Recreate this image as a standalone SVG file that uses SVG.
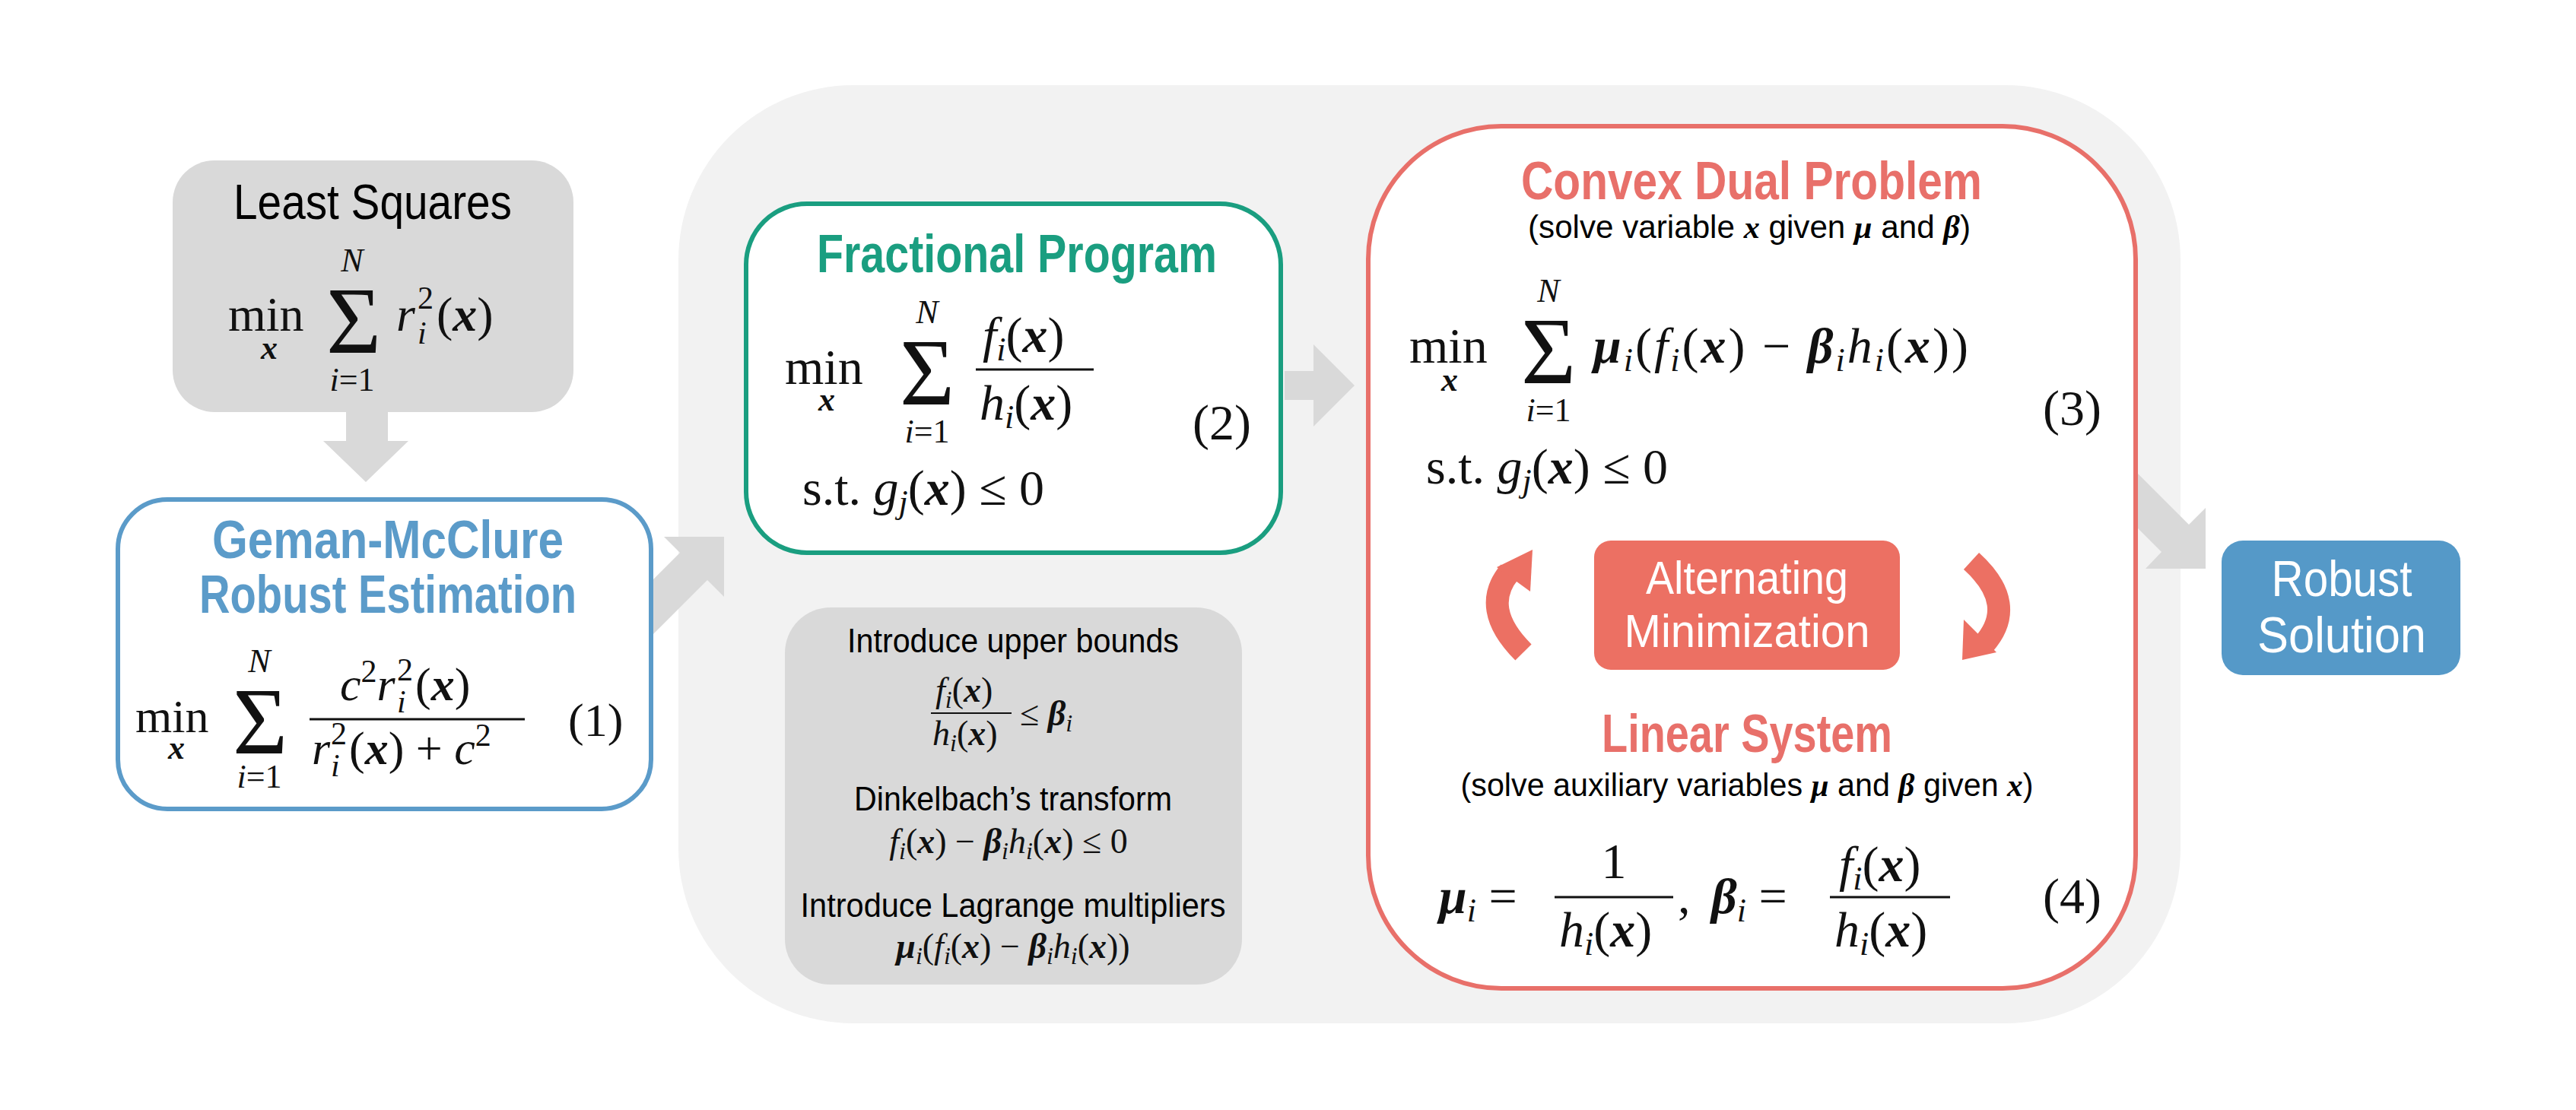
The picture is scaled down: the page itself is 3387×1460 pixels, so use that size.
<svg xmlns="http://www.w3.org/2000/svg" width="3387" height="1460" viewBox="0 0 3387 1460">
<style>
.t{font-family:"Liberation Sans Narrow","Liberation Sans",sans-serif;font-weight:bold}
.s{font-family:"Liberation Sans Narrow","Liberation Sans",sans-serif}
.m{font-family:"Liberation Serif",serif;fill:#111}
.i{font-style:italic}
.b{font-style:italic;font-weight:bold}
.arr{fill:#d9d9d9}
</style>
<rect width="3387" height="1460" fill="#fff"/>
<g id="background"><rect x="892" y="112" width="1975" height="1234" rx="230" fill="#f2f2f2"/></g>
<g id="connectors">
<polygon class="arr" points="455,542 510,542 510,580 537,580 481,634 425,580 455,580"/>
<polygon class="arr" points="952,706 952,785 930,763 856,837 856,765 894,727 873,706"/>
<polygon class="arr" points="1689,488 1727,488 1727,453 1781,507 1727,561 1727,526 1689,526"/>
<polygon class="arr" points="2900,748 2900,668 2878,690 2808,620 2808,692 2842,726 2821,748"/>
</g>
<g id="least-squares" font-size="64">
<rect x="227" y="211" width="527" height="331" rx="55" fill="#d9d9d9"/>
<text class="s" x="490" y="288" font-size="64" text-anchor="middle" textLength="366" lengthAdjust="spacingAndGlyphs">Least Squares</text>
<text class="m" x="300" y="435">min</text>
<text class="m b" x="354" y="472" font-size="44" text-anchor="middle">x</text>
<text class="m" x="465" y="464" font-size="124" text-anchor="middle">Σ</text>
<text class="m i" x="463" y="357" font-size="44" text-anchor="middle">N</text>
<text class="m" x="463" y="514" font-size="44" text-anchor="middle"><tspan class="i">i</tspan>=1</text>
<text class="m i" x="521" y="435">r</text>
<text class="m" x="549" y="406" font-size="42">2</text>
<text class="m i" x="549" y="452" font-size="42">i</text>
<text class="m" x="574" y="435">(<tspan class="b">x</tspan>)</text>
</g>
<g id="geman-mcclure" font-size="62">
<rect x="155" y="657" width="701" height="407" rx="65" fill="#fff" stroke="#5b9bc9" stroke-width="6"/>
<text class="t" x="510" y="734" font-size="70" fill="#5b9bc9" text-anchor="middle" textLength="462" lengthAdjust="spacingAndGlyphs">Geman-McClure</text>
<text class="t" x="510" y="806" font-size="70" fill="#5b9bc9" text-anchor="middle" textLength="496" lengthAdjust="spacingAndGlyphs">Robust Estimation</text>
<text class="m" x="178" y="963">min</text>
<text class="m b" x="232" y="998" font-size="44" text-anchor="middle">x</text>
<text class="m" x="342" y="991" font-size="124" text-anchor="middle">Σ</text>
<text class="m i" x="341" y="884" font-size="44" text-anchor="middle">N</text>
<text class="m" x="341" y="1036" font-size="44" text-anchor="middle"><tspan class="i">i</tspan>=1</text>
<text class="m" x="447" y="921"><tspan class="i">c</tspan><tspan font-size="42" dy="-24">2</tspan><tspan class="i" dy="24">r</tspan></text>
<text class="m" x="522" y="895" font-size="42">2</text>
<text class="m" x="522" y="937" font-size="42" font-style="italic">i</text>
<text class="m" x="546" y="921">(<tspan class="b">x</tspan>)</text>
<line x1="407" y1="946" x2="690" y2="946" stroke="#111" stroke-width="3"/>
<text class="m i" x="410" y="1005">r</text>
<text class="m" x="435" y="979" font-size="42">2</text>
<text class="m" x="435" y="1021" font-size="42" font-style="italic">i</text>
<text class="m" x="459" y="1005">(<tspan class="b">x</tspan>) + <tspan class="i">c</tspan><tspan font-size="42" dy="-24">2</tspan></text>
<text class="m" x="747" y="968">(1)</text>
</g>
<g id="fractional-program" font-size="66">
<rect x="981" y="268" width="703" height="459" rx="80" fill="#fff" stroke="#1a9e80" stroke-width="6"/>
<text class="t" x="1337" y="358" font-size="70" fill="#1a9e80" text-anchor="middle" textLength="526" lengthAdjust="spacingAndGlyphs">Fractional Program</text>
<text class="m" x="1032" y="505">min</text>
<text class="m b" x="1087" y="540" font-size="44" text-anchor="middle">x</text>
<text class="m" x="1219" y="532" font-size="124" text-anchor="middle">Σ</text>
<text class="m i" x="1219" y="425" font-size="44" text-anchor="middle">N</text>
<text class="m" x="1219" y="582" font-size="44" text-anchor="middle"><tspan class="i">i</tspan>=1</text>
<text class="m" x="1292" y="463"><tspan class="i">f</tspan><tspan class="i" font-size="44" dy="11">i</tspan><tspan dy="-11">(</tspan><tspan class="b">x</tspan>)</text>
<line x1="1283" y1="486" x2="1438" y2="486" stroke="#111" stroke-width="3"/>
<text class="m" x="1288" y="552"><tspan class="i">h</tspan><tspan class="i" font-size="44" dy="11">i</tspan><tspan dy="-11">(</tspan><tspan class="b">x</tspan>)</text>
<text class="m" x="1568" y="578">(2)</text>
<text class="m" x="1055" y="664">s.t.  <tspan class="i">g</tspan><tspan class="i" font-size="44" dy="11">j</tspan><tspan dy="-11">(</tspan><tspan class="b">x</tspan>) ≤ 0</text>
</g>
<g id="transform-steps" font-size="46">
<rect x="1032" y="799" width="601" height="496" rx="60" fill="#d9d9d9"/>
<text class="s" x="1332" y="858" font-size="44" text-anchor="middle" textLength="436" lengthAdjust="spacingAndGlyphs">Introduce upper bounds</text>
<text class="m" x="1230" y="923"><tspan class="i">f</tspan><tspan class="i" font-size="32" dy="8">i</tspan><tspan dy="-8">(</tspan><tspan class="b">x</tspan>)</text>
<line x1="1224" y1="938" x2="1330" y2="938" stroke="#111" stroke-width="2"/>
<text class="m" x="1226" y="980"><tspan class="i">h</tspan><tspan class="i" font-size="32" dy="8">i</tspan><tspan dy="-8">(</tspan><tspan class="b">x</tspan>)</text>
<text class="m" x="1341" y="954">≤ <tspan class="b">β</tspan><tspan class="i" font-size="32" dy="8">i</tspan></text>
<text class="s" x="1332" y="1066" font-size="44" text-anchor="middle" textLength="418" lengthAdjust="spacingAndGlyphs">Dinkelbach’s transform</text>
<text class="m" x="1326" y="1122" text-anchor="middle"><tspan class="i">f</tspan><tspan class="i" font-size="32" dy="8">i</tspan><tspan dy="-8">(</tspan><tspan class="b">x</tspan>) − <tspan class="b">β</tspan><tspan class="i" font-size="32" dy="8">i</tspan><tspan class="i" dy="-8">h</tspan><tspan class="i" font-size="32" dy="8">i</tspan><tspan dy="-8">(</tspan><tspan class="b">x</tspan>) ≤ 0</text>
<text class="s" x="1332" y="1206" font-size="44" text-anchor="middle" textLength="559" lengthAdjust="spacingAndGlyphs">Introduce Lagrange multipliers</text>
<text class="m" x="1332" y="1260" text-anchor="middle"><tspan class="b">μ</tspan><tspan class="i" font-size="32" dy="8">i</tspan><tspan dy="-8">(</tspan><tspan class="i">f</tspan><tspan class="i" font-size="32" dy="8">i</tspan><tspan dy="-8">(</tspan><tspan class="b">x</tspan>) − <tspan class="b">β</tspan><tspan class="i" font-size="32" dy="8">i</tspan><tspan class="i" dy="-8">h</tspan><tspan class="i" font-size="32" dy="8">i</tspan><tspan dy="-8">(</tspan><tspan class="b">x</tspan>))</text>
</g>
<g id="convex-dual" font-size="66">
<rect x="1799" y="166" width="1009" height="1134" rx="175" fill="#fff" stroke="#e8706a" stroke-width="6"/>
<text class="t" x="2303" y="262" font-size="70" fill="#e8706a" text-anchor="middle" textLength="606" lengthAdjust="spacingAndGlyphs">Convex Dual Problem</text>
<text class="s" x="2300" y="313" font-size="42" text-anchor="middle" textLength="582" lengthAdjust="spacingAndGlyphs">(solve variable <tspan font-family="Liberation Serif" class="b">x</tspan> given <tspan font-family="Liberation Serif" class="b">μ</tspan> and <tspan font-family="Liberation Serif" class="b">β</tspan>)</text>
<text class="m" x="1853" y="477">min</text>
<text class="m b" x="1906" y="514" font-size="44" text-anchor="middle">x</text>
<text class="m" x="2036" y="504" font-size="124" text-anchor="middle">Σ</text>
<text class="m i" x="2036" y="397" font-size="44" text-anchor="middle">N</text>
<text class="m" x="2036" y="554" font-size="44" text-anchor="middle"><tspan class="i">i</tspan>=1</text>
<text class="m" x="2095" y="477" letter-spacing="3"><tspan class="b">μ</tspan><tspan class="i" font-size="44" dy="11">i</tspan><tspan dy="-11">(</tspan><tspan class="i">f</tspan><tspan class="i" font-size="44" dy="11">i</tspan><tspan dy="-11">(</tspan><tspan class="b">x</tspan>) − <tspan class="b">β</tspan><tspan class="i" font-size="44" dy="11">i</tspan><tspan class="i" dy="-11">h</tspan><tspan class="i" font-size="44" dy="11">i</tspan><tspan dy="-11">(</tspan><tspan class="b">x</tspan>))</text>
<text class="m" x="2686" y="559">(3)</text>
<text class="m" x="1875" y="636">s.t.  <tspan class="i">g</tspan><tspan class="i" font-size="44" dy="11">j</tspan><tspan dy="-11">(</tspan><tspan class="b">x</tspan>) ≤ 0</text>
<text class="t" x="2297" y="989" font-size="70" fill="#e8706a" text-anchor="middle" textLength="382" lengthAdjust="spacingAndGlyphs">Linear System</text>
<text class="s" x="2297" y="1047" font-size="42" text-anchor="middle" textLength="753" lengthAdjust="spacingAndGlyphs">(solve auxiliary variables <tspan font-family="Liberation Serif" class="b">μ</tspan> and <tspan font-family="Liberation Serif" class="b">β</tspan> given <tspan font-family="Liberation Serif" class="b">x</tspan>)</text>
<text class="m" x="1892" y="1201"><tspan class="b">μ</tspan><tspan class="i" font-size="44" dy="11">i</tspan><tspan dy="-11"> =</tspan></text>
<text class="m" x="2122" y="1155" text-anchor="middle">1</text>
<line x1="2044" y1="1180" x2="2200" y2="1180" stroke="#111" stroke-width="3"/>
<text class="m" x="2050" y="1245"><tspan class="i">h</tspan><tspan class="i" font-size="44" dy="11">i</tspan><tspan dy="-11">(</tspan><tspan class="b">x</tspan>)</text>
<text class="m" x="2206" y="1201">,</text>
<text class="m" x="2250" y="1201"><tspan class="b">β</tspan><tspan class="i" font-size="44" dy="11">i</tspan><tspan dy="-11"> =</tspan></text>
<text class="m" x="2418" y="1159"><tspan class="i">f</tspan><tspan class="i" font-size="44" dy="11">i</tspan><tspan dy="-11">(</tspan><tspan class="b">x</tspan>)</text>
<line x1="2406" y1="1180" x2="2564" y2="1180" stroke="#111" stroke-width="3"/>
<text class="m" x="2412" y="1245"><tspan class="i">h</tspan><tspan class="i" font-size="44" dy="11">i</tspan><tspan dy="-11">(</tspan><tspan class="b">x</tspan>)</text>
<text class="m" x="2686" y="1201">(4)</text>
</g>
<g id="alternating-minimization">
<rect x="2096" y="711" width="402" height="170" rx="22" fill="#ec7063"/>
<text class="s" x="2297" y="781" font-size="62" fill="#fff" text-anchor="middle" textLength="266" lengthAdjust="spacingAndGlyphs">Alternating</text>
<text class="s" x="2297" y="851" font-size="62" fill="#fff" text-anchor="middle" textLength="323" lengthAdjust="spacingAndGlyphs">Minimization</text>
<path d="M2003,858 Q1945,800 1985,752" fill="none" stroke="#ec7063" stroke-width="30"/>
<polygon points="1968,746 2015,723 2012,778" fill="#ec7063"/>
<path d="M2592,738 Q2655,795 2608,848" fill="none" stroke="#ec7063" stroke-width="30"/>
<polygon points="2625,858 2580,868 2582,815" fill="#ec7063"/>
</g>
<g id="robust-solution">
<rect x="2921" y="711" width="314" height="177" rx="28" fill="#5599c8"/>
<text class="s" x="3079" y="784" font-size="66" fill="#fff" text-anchor="middle" textLength="185" lengthAdjust="spacingAndGlyphs">Robust</text>
<text class="s" x="3079" y="858" font-size="66" fill="#fff" text-anchor="middle" textLength="222" lengthAdjust="spacingAndGlyphs">Solution</text>
</g>
</svg>
